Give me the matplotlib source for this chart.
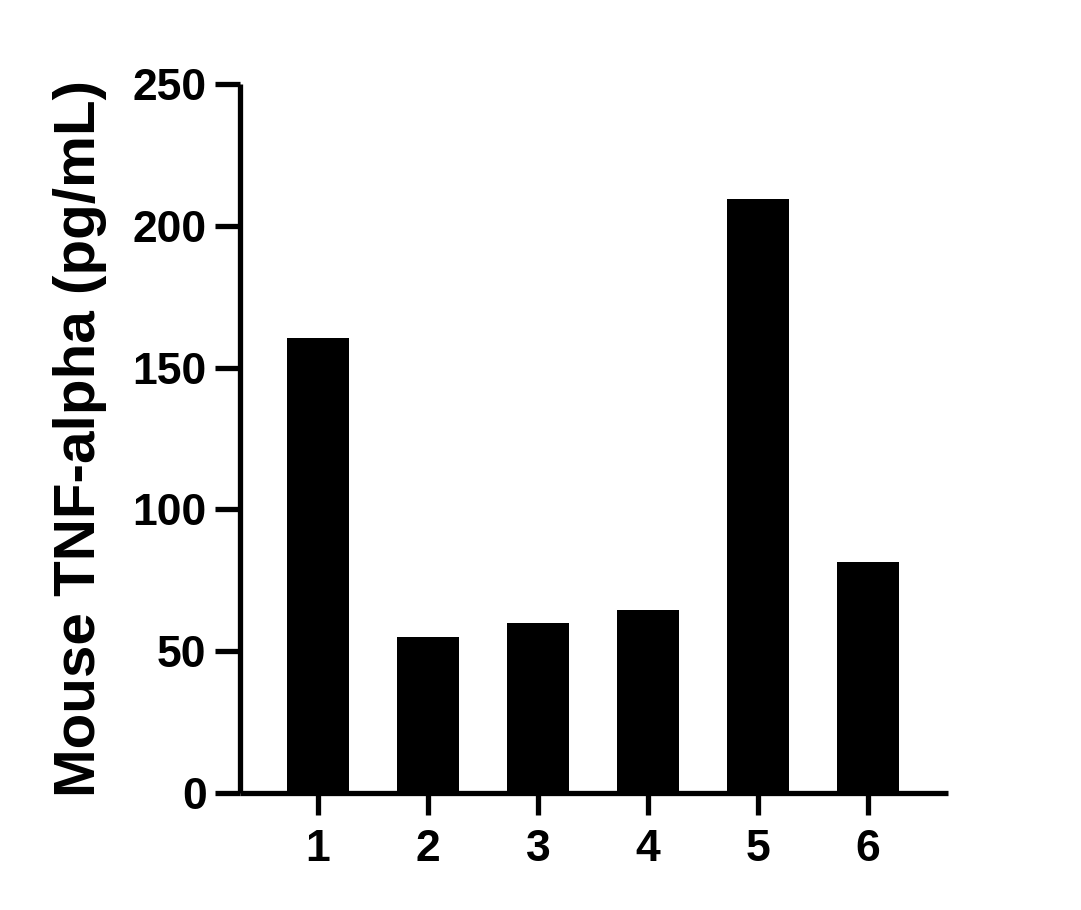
import matplotlib
matplotlib.use("Agg")
import matplotlib.pyplot as plt

categories = ["1", "2", "3", "4", "5", "6"]
values = [160.5, 55, 60, 64.5, 209.5, 81.5]
yticks = [0, 50, 100, 150, 200, 250]
ylabel = "Mouse TNF-alpha (pg/mL)"

plt.rcParams['font.family'] = ['Liberation Sans', 'DejaVu Sans']
plt.rcParams['font.weight'] = 'bold'

fig = plt.figure(figsize=(10.81, 9.10), dpi=100)
ax = fig.add_axes([0.222, 0.1286, 0.655, 0.7791])

x = list(range(1, len(categories) + 1))
ax.bar(x, values, width=0.56, color='black', edgecolor='black', linewidth=0, zorder=1)

ax.set_xlim(0.29, 6.73)
ax.set_ylim(0, 250)
ax.set_yticks(yticks)
ax.set_yticklabels([str(v) for v in yticks])
ax.set_xticks(x)
ax.set_xticklabels(categories)

for s in ['top', 'right']:
    ax.spines[s].set_visible(False)
for s in ['left', 'bottom']:
    ax.spines[s].set_linewidth(3.8)
    ax.spines[s].set_capstyle('butt')

ax.tick_params(axis='y', length=18, width=3.8, labelsize=32, pad=6)
ax.tick_params(axis='x', length=16, width=3.8, labelsize=32, pad=10)
for lab in ax.get_xticklabels() + ax.get_yticklabels():
    lab.set_fontweight('bold')

ax.set_ylabel(ylabel, fontsize=42, fontweight='bold', labelpad=18)

fig.savefig("out.png", dpi=100, facecolor='white')
